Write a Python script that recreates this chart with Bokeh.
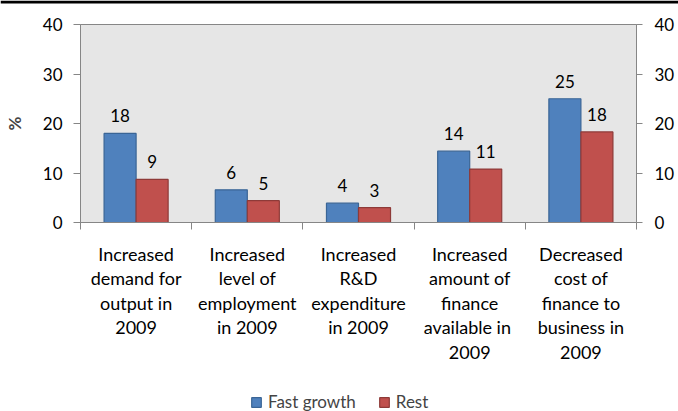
from bokeh.plotting import figure
from bokeh.models import (Range1d, LinearAxis, FixedTicker, ColumnDataSource, Legend,
                          LegendItem, BoxAnnotation)
from bokeh.embed import file_html
from bokeh.resources import INLINE
from bokeh.core.properties import value

categories = [
    "Increased\ndemand for\noutput in\n2009",
    "Increased\nlevel of\nemployment\nin 2009",
    "Increased\nR&D\nexpenditure\nin 2009",
    "Increased\namount of\nfinance\navailable  in\n2009",
    "Decreased\ncost of\nfinance to\nbusiness in\n2009",
]
fast_growth = [18.0, 6.6, 3.9, 14.4, 25.0]
rest = [8.7, 4.4, 3.0, 10.8, 18.3]
fast_labels = ["18", "6", "4", "14", "25"]
rest_labels = ["9", "5", "3", "11", "18"]
y_ticks = [0, 10, 20, 30, 40]

FONT = "Lato"
AXIS_COLOR = "#868686"
BW = 0.288
W, H = 678, 411
# plot-area placement inside the picture (pixels)
PA_LEFT, PA_RIGHT, PA_TOP, PA_BOTTOM = 80, 636, 24, 222

n = len(categories)
ymax = y_ticks[-1]
px_x = (PA_RIGHT - PA_LEFT) / n
px_y = (PA_BOTTOM - PA_TOP) / ymax
x_start, x_end = -PA_LEFT / px_x, n + (W - PA_RIGHT) / px_x
y_start, y_end = -(H - PA_BOTTOM) / px_y, ymax + PA_TOP / px_y

centers = [i + 0.5 for i in range(n)]

p = figure(width=W, height=H, output_backend="svg", toolbar_location=None,
           x_range=Range1d(x_start, x_end), y_range=Range1d(y_start, y_end),
           x_axis_location=None, y_axis_location=None,
           min_border=0, min_border_left=0, min_border_right=0,
           min_border_top=0, min_border_bottom=0)
p.background_fill_color = "white"
p.border_fill_color = "white"
p.outline_line_color = None
p.grid.visible = False

# thin black rule across the top of the picture
p.add_layout(BoxAnnotation(bottom=y_end - 3 / px_y, fill_color="black", fill_alpha=1,
                           line_alpha=0))

# grey plot area
p.quad(left=0, right=n, bottom=0, top=ymax, fill_color="#e6e6e6",
       line_color=AXIS_COLOR, line_width=1)

src_f = ColumnDataSource(dict(x=[c - BW / 2 for c in centers], top=fast_growth, lbl=fast_labels))
src_r = ColumnDataSource(dict(x=[c + BW / 2 for c in centers], top=rest, lbl=rest_labels))

r1 = p.vbar(x="x", top="top", width=BW, bottom=0, source=src_f,
            fill_color="#4F81BD", line_color="#3A6596", line_width=1.2)
r2 = p.vbar(x="x", top="top", width=BW, bottom=0, source=src_r,
            fill_color="#C0504D", line_color="#8E3A38", line_width=1.2)

for s in (src_f, src_r):
    p.text(x="x", y="top", text="lbl", source=s, text_align="center", text_baseline="bottom",
           y_offset=-11, text_font=value(FONT), text_font_size="17px", text_color="#000000")

# x axis at y = 0
xa = LinearAxis(fixed_location=0)
xa.ticker = FixedTicker(ticks=centers, minor_ticks=list(range(n + 1)))
xa.bounds = (0, n)
xa.major_label_overrides = {c: lab for c, lab in zip(centers, categories)}
xa.major_tick_out = 0
xa.major_tick_in = 0
xa.minor_tick_out = 7
xa.minor_tick_in = 0
xa.axis_line_color = AXIS_COLOR
xa.minor_tick_line_color = AXIS_COLOR
xa.major_label_text_font = FONT
xa.major_label_text_font_size = "18px"
xa.major_label_text_color = "#000000"
xa.major_label_text_line_height = 1.12
xa.major_label_standoff = 13
p.add_layout(xa, "below")

# left and right y axes
ya = LinearAxis(fixed_location=0, ticker=FixedTicker(ticks=y_ticks), bounds=(0, ymax))
ya.axis_label = "%"
ya.axis_label_text_font = FONT
ya.axis_label_text_font_size = "17px"
ya.axis_label_text_font_style = "bold"
ya.axis_label_standoff = 15
ya.major_tick_out = 7
ya.major_label_standoff = 11
p.add_layout(ya, "left")

ra = LinearAxis(fixed_location=n, ticker=FixedTicker(ticks=y_ticks), bounds=(0, ymax))
ra.major_tick_out = 6
ra.major_label_standoff = 12
p.add_layout(ra, "right")

for a in (ya, ra):
    a.axis_line_color = AXIS_COLOR
    a.major_tick_line_color = AXIS_COLOR
    a.major_tick_in = 0
    a.minor_tick_out = 0
    a.minor_tick_in = 0
    a.major_label_text_font = FONT
    a.major_label_text_font_size = "17px"
    a.major_label_text_color = "#000000"

legend = Legend(items=[LegendItem(label="Fast growth", renderers=[r1]),
                       LegendItem(label="Rest", renderers=[r2])],
                orientation="horizontal", location=(250, -1),
                border_line_alpha=0, background_fill_alpha=0,
                label_text_font=FONT, label_text_font_size="17px",
                glyph_width=12, glyph_height=12, spacing=22, padding=0, margin=0,
                label_standoff=6)
p.add_layout(legend)

open("out.html", "w").write(file_html(p, INLINE))
